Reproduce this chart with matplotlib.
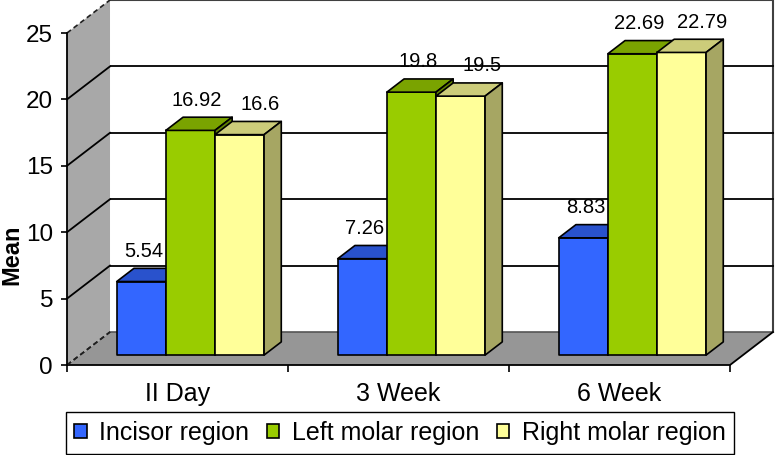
import matplotlib.pyplot as plt
from matplotlib.patches import Polygon, Patch
from matplotlib.colors import to_rgb

plt.rcParams['font.family'] = ['Liberation Sans', 'DejaVu Sans']

categories = ["II Day", "3 Week", "6 Week"]
series_names = ["Incisor region", "Left molar region", "Right molar region"]
incisor = [5.54, 7.26, 8.83]
left_molar = [16.92, 19.8, 22.69]
right_molar = [16.6, 19.5, 22.79]
yticks = [0, 5, 10, 15, 20, 25]

values = [incisor, left_molar, right_molar]
colors = ["#3366FF", "#99CC00", "#FFFF99"]
label_dx = [-4.5, -1.5, 9]   # points, keeps the value labels apart like excel does

# fake 3d: depth vector of the whole floor in data units
ddx = 0.1946
ddy = 2.485
f0, f1 = 0.3, 0.7          # front / back of the bars as fraction of depth
bw = 1 / 4.5               # excel gap width 150%
ymax = 25
ncat = len(categories)


def shade(c, k):
    r, g, b = to_rgb(c)
    return (r * k, g * k, b * k)


fig = plt.figure(figsize=(7.75, 4.55), dpi=100)
ax = fig.add_axes([67 / 775, 90 / 455, 663 / 775, 332 / 455])
ax.set_xlim(0, ncat)
ax.set_ylim(0, ymax)
for s in ["top", "right", "bottom"]:
    ax.spines[s].set_visible(False)
ax.spines["left"].set_linewidth(1.3)
ax.spines["left"].set_zorder(6)
ax.patch.set_visible(False)

# back wall
ax.add_patch(Polygon([(ddx, ddy), (ncat + ddx, ddy), (ncat + ddx, ymax + ddy), (ddx, ymax + ddy)],
                     closed=True, facecolor="white", edgecolor="none", clip_on=False, zorder=0))
ax.plot([ddx, ncat + ddx, ncat + ddx], [ymax + ddy, ymax + ddy, ddy], color="#404040",
        lw=1.5, clip_on=False, zorder=1)
for t in yticks[1:-1]:
    ax.plot([ddx, ncat + ddx], [t + ddy, t + ddy], color="black", lw=1.3, clip_on=False, zorder=1)

# left wall
ax.add_patch(Polygon([(0, 0), (0, ymax), (ddx, ymax + ddy), (ddx, ddy)],
                     closed=True, facecolor="#A8A8A8", edgecolor="none", clip_on=False, zorder=2))
for t in yticks:
    if t in (0, ymax):
        ax.plot([0, ddx], [t, t + ddy], color="#202020", lw=1.2, ls=(0, (3, 2)), clip_on=False, zorder=3)
    else:
        ax.plot([0, ddx], [t, t + ddy], color="black", lw=1.3, clip_on=False, zorder=3)

# floor
ax.add_patch(Polygon([(0, 0), (ncat, 0), (ncat + ddx, ddy), (ddx, ddy)],
                     closed=True, facecolor="#969696", edgecolor="none", clip_on=False, zorder=2))
ax.plot([ddx, ncat + ddx], [ddy, ddy], color="#555555", lw=1.2, clip_on=False, zorder=2.5)
ax.plot([0, ncat, ncat + ddx], [0, 0, ddy], color="black", lw=1.3, clip_on=False, zorder=3)
ax.plot([0, ddx], [0, ddy], color="#202020", lw=1.2, ls=(0, (3, 2)), clip_on=False, zorder=3)

# bars
ox, oy = f0 * ddx, f0 * ddy
bx, by = f1 * ddx, f1 * ddy
z = 10
for i in range(ncat):
    for j, vals in enumerate(values):
        v = vals[i]
        x0 = i + 0.5 - 1.5 * bw + j * bw
        x1 = x0 + bw
        kw = dict(closed=True, edgecolor="black", lw=1.2, clip_on=False, joinstyle="round")
        ax.add_patch(Polygon([(x0 + ox, oy), (x1 + ox, oy), (x1 + ox, v + oy), (x0 + ox, v + oy)],
                             facecolor=colors[j], zorder=z, **kw))
        ax.add_patch(Polygon([(x0 + ox, v + oy), (x1 + ox, v + oy), (x1 + bx, v + by), (x0 + bx, v + by)],
                             facecolor=shade(colors[j], 0.8), zorder=z, **kw))
        ax.add_patch(Polygon([(x1 + ox, oy), (x1 + bx, by), (x1 + bx, v + by), (x1 + ox, v + oy)],
                             facecolor=shade(colors[j], 0.65), zorder=z, **kw))
        ax.annotate(f"{v:g}", xy=(x0 + bw / 2 + 0.5 * ddx, v + 0.5 * ddy), xytext=(label_dx[j], 17),
                    textcoords="offset points", ha="center", va="center", fontsize=14.5,
                    zorder=40, annotation_clip=False)
        z += 1

ax.set_yticks(yticks)
ax.tick_params(axis="y", labelsize=17.5, length=4, width=1.2, pad=6, direction="out")
ax.set_xticks(range(ncat + 1))
ax.set_xticklabels([])
ax.set_xticks([i + 0.5 for i in range(ncat)], minor=True)
ax.set_xticklabels(categories, minor=True, fontsize=18)
ax.tick_params(axis="x", which="major", length=5, width=1.2, direction="out")
ax.tick_params(axis="x", which="minor", length=0, pad=12)
fig.text(0, 200 / 455, "Mean", rotation=90, ha="left", va="center", fontsize=17, fontweight="bold")

handles = [Patch(facecolor=c, edgecolor="black", lw=1.2) for c in colors]
fig.legend(handles, series_names, loc="center", bbox_to_anchor=(400 / 775, 22 / 455), ncol=3,
           fontsize=18, frameon=True, fancybox=False, edgecolor="black", framealpha=1,
           handlelength=0.5, handleheight=0.5, handletextpad=0.5, columnspacing=0.7,
           borderpad=0.35, borderaxespad=0)

fig.savefig("out.png", dpi=100)
